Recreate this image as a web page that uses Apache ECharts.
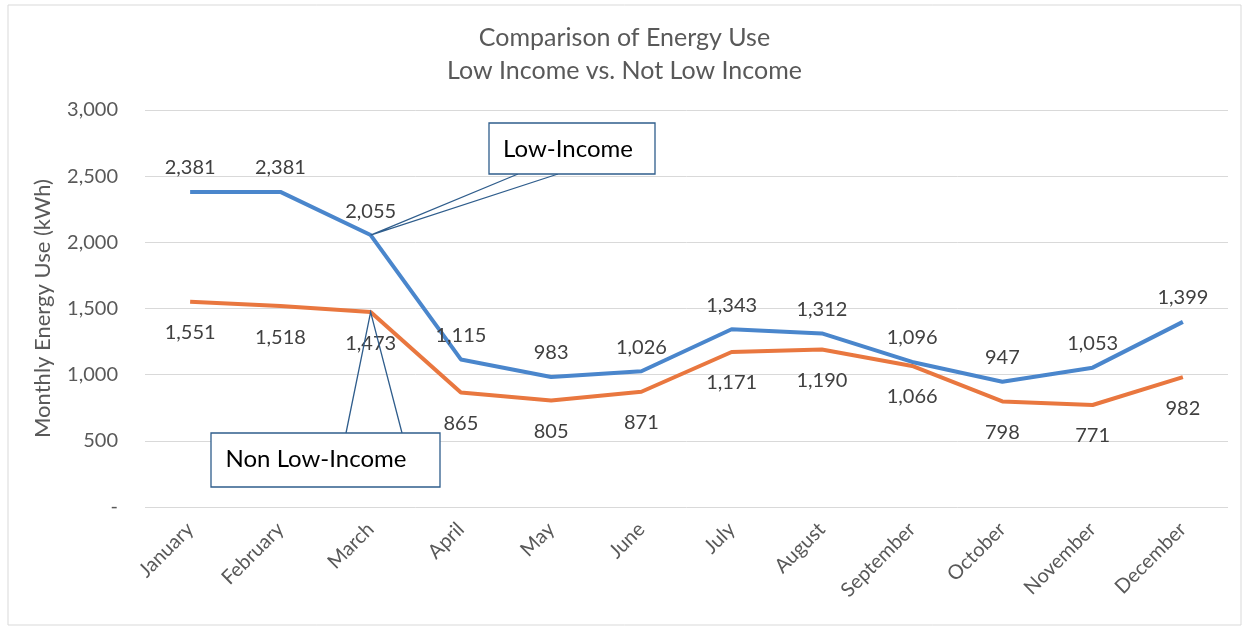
<!DOCTYPE html>
<html>
<head>
<meta charset="utf-8">
<script src="https://cdn.jsdelivr.net/npm/echarts@6/dist/echarts.min.js"></script>
<style>html,body{margin:0;padding:0;background:#fff;}#c{width:1249px;height:629px;}</style>
</head>
<body>
<div id="c"></div>
<script>
const months = ['January','February','March','April','May','June','July','August','September','October','November','December'];
const lowIncome = [2381, 2381, 2055, 1115, 983, 1026, 1343, 1312, 1096, 947, 1053, 1399];
const nonLowIncome = [1551, 1518, 1473, 865, 805, 871, 1171, 1190, 1066, 798, 771, 982];
const yTicks = [0, 500, 1000, 1500, 2000, 2500, 3000];
const titleLines = ['Comparison of Energy Use', 'Low Income vs. Not Low Income'];
const yName = 'Monthly Energy Use (kWh)';
const calloutLow = 'Low-Income';
const calloutNon = 'Non Low-Income';

const FONT = 'Lato, "Open Sans", sans-serif';
const fmt = v => v === 0 ? '-' : v.toLocaleString('en-US');

const chart = echarts.init(document.getElementById('c'), null, {renderer: 'canvas'});
chart.setOption({
  backgroundColor: '#fff',
  animation: false,
  title: {
    text: titleLines.join('\n'),
    left: 'center',
    top: 16,
    textStyle: {fontFamily: FONT, fontSize: 25, fontWeight: 'normal', color: '#595959', lineHeight: 33}
  },
  grid: {left: 145, right: 21, top: 110, bottom: 122},
  xAxis: {
    type: 'category',
    data: months,
    boundaryGap: true,
    axisLine: {show: false},
    axisTick: {show: false},
    axisLabel: {rotate: 45, fontFamily: FONT, fontSize: 20, color: '#595959', margin: 19}
  },
  yAxis: {
    type: 'value',
    min: yTicks[0],
    max: yTicks[yTicks.length - 1],
    interval: 500,
    name: yName,
    nameLocation: 'middle',
    nameGap: 91,
    nameTextStyle: {fontFamily: FONT, fontSize: 22, color: '#595959'},
    axisLine: {show: false},
    axisTick: {show: false},
    axisLabel: {fontFamily: FONT, fontSize: 20, color: '#595959', margin: 27, formatter: fmt},
    splitLine: {lineStyle: {color: '#d9d9d9', width: 1}}
  },
  series: [
    {
      name: 'Low-Income',
      type: 'line',
      data: lowIncome,
      symbol: 'circle',
      symbolSize: 0,
      showSymbol: true,
      lineStyle: {color: '#4a86cc', width: 4},
      itemStyle: {color: '#4a86cc'},
      label: {show: true, position: 'top', distance: 14, fontFamily: FONT, fontSize: 20, color: '#404040', formatter: p => fmt(p.value)}
    },
    {
      name: 'Non Low-Income',
      type: 'line',
      data: nonLowIncome,
      symbol: 'circle',
      symbolSize: 0,
      showSymbol: true,
      lineStyle: {color: '#e9773f', width: 4},
      itemStyle: {color: '#e9773f'},
      label: {show: true, position: 'bottom', distance: 21, fontFamily: FONT, fontSize: 20, color: '#404040', formatter: p => fmt(p.value)}
    }
  ]
});

const tipLow = chart.convertToPixel({seriesIndex: 0}, [2, lowIncome[2]]);
const tipNon = chart.convertToPixel({seriesIndex: 1}, [2, nonLowIncome[2]]);
const stroke = '#2f5d8c';
chart.setOption({
  graphic: [
    {type: 'rect', shape: {x: 8, y: 5, width: 1233, height: 620}, style: {fill: 'none', stroke: '#d9d9d9', lineWidth: 1}, silent: true, z: 0},
    {type: 'polyline', shape: {points: [[518, 174], tipLow, [558, 174]]}, style: {stroke: stroke, lineWidth: 1.3, fill: 'none'}, z: 100},
    {type: 'rect', shape: {x: 489, y: 123, width: 166, height: 51}, style: {fill: '#fff', stroke: stroke, lineWidth: 1.3}, z: 100},
    {type: 'text', x: 568, y: 149, style: {text: calloutLow, fontFamily: FONT, fontSize: 24, fill: '#000', align: 'center', verticalAlign: 'middle'}, z: 101},
    {type: 'polyline', shape: {points: [[346, 433], tipNon, [402, 433]]}, style: {stroke: stroke, lineWidth: 1.3, fill: 'none'}, z: 100},
    {type: 'rect', shape: {x: 211, y: 433, width: 229, height: 54}, style: {fill: '#fff', stroke: stroke, lineWidth: 1.3}, z: 100},
    {type: 'text', x: 316, y: 459, style: {text: calloutNon, fontFamily: FONT, fontSize: 24, fill: '#000', align: 'center', verticalAlign: 'middle'}, z: 101}
  ]
});
</script>
</body>
</html>
